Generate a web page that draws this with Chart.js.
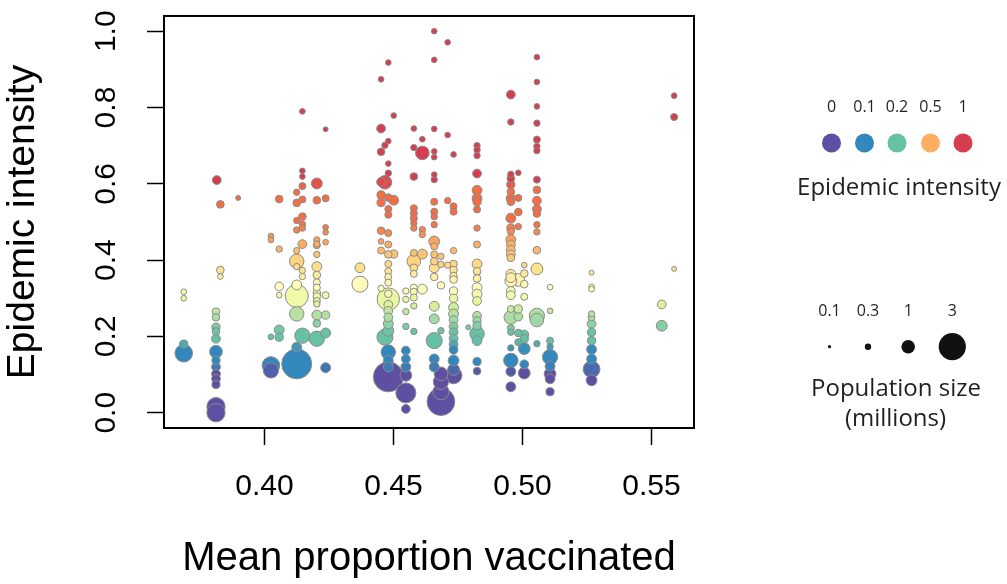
<!DOCTYPE html>
<html><head><meta charset="utf-8">
<script src="https://cdn.jsdelivr.net/npm/chart.js@4.4.1/dist/chart.umd.min.js"></script>
<style>html,body{margin:0;padding:0;background:#fff;}#wrap{position:relative;width:1007px;height:584px;}</style>
</head><body><div id="wrap"><canvas id="c" width="1007" height="584"></canvas></div>
<script>
// ---- data ----
const columnX = [0.3687,0.3815,0.3829,0.3812,0.3898,0.4025,0.4057,0.4125,0.4147,0.4203,0.4237,0.4370,0.4452,0.4467,0.4480,0.4501,0.4548,0.4579,0.4612,0.4658,0.4684,0.4710,0.4733,0.4790,0.4824,0.4955,0.4984,0.5007,0.5056,0.5107,0.5268,0.5540,0.5588];
const columnIntensity = [
 [0.317,0.300,0.180,0.156],
 [0.610],
 [0.546,0.374,0.357],
 [0.265,0.250,0.224,0.213,0.194,0.160,0.137,0.120,0.102,0.089,0.074,0.016,0.000],
 [0.563],
 [0.463,0.453,0.199,0.124,0.111],
 [0.560,0.429,0.331,0.308,0.217,0.198],
 [0.578,0.550,0.504,0.479,0.425,0.397,0.383,0.335,0.306,0.259,0.172,0.128],
 [0.790,0.634,0.619,0.594,0.559,0.514,0.494,0.484,0.442,0.373,0.357,0.202],
 [0.601,0.557,0.453,0.442,0.439,0.415,0.383,0.361,0.342,0.328,0.314,0.305,0.293,0.285,0.256,0.234,0.194],
 [0.743,0.562,0.486,0.473,0.447,0.308,0.256,0.209,0.118],
 [0.380,0.337],
 [0.874,0.745,0.684,0.605,0.571,0.551,0.477,0.449,0.425,0.326],
 [0.701,0.604,0.198],
 [0.918,0.712,0.653,0.628,0.564,0.534,0.519,0.471,0.441,0.415,0.390,0.371,0.356,0.341,0.312,0.298,0.283,0.267,0.250,0.233,0.215,0.159,0.137,0.120,0.094],
 [0.779,0.557,0.416],
 [0.319,0.297,0.265,0.226,0.163,0.141,0.120,0.098,0.052,0.010],
 [0.745,0.695,0.619,0.536,0.523,0.510,0.497,0.484,0.419,0.397,0.380,0.364,0.328,0.317,0.302,0.280,0.213],
 [0.717,0.681,0.480,0.467,0.416,0.324],
 [1.000,0.925,0.744,0.685,0.670,0.624,0.611,0.553,0.527,0.514,0.493,0.449,0.436,0.415,0.397,0.380,0.356,0.279,0.246,0.189,0.141,0.120],
 [0.410,0.389,0.334,0.215,0.102,0.081,0.055,0.029],
 [0.971,0.728,0.556,0.387],
 [0.677,0.541,0.527,0.425,0.390,0.374,0.358,0.349,0.319,0.300,0.276,0.259,0.243,0.226,0.211,0.194,0.179,0.165,0.137,0.113,0.098],
 [0.224],
 [0.700,0.689,0.674,0.627,0.583,0.562,0.553,0.533,0.484,0.441,0.390,0.371,0.352,0.328,0.311,0.293,0.254,0.241,0.228,0.207,0.189,0.134,0.109],
 [0.834,0.762,0.625,0.614,0.598,0.579,0.562,0.553,0.510,0.484,0.475,0.454,0.441,0.427,0.415,0.406,0.363,0.354,0.345,0.319,0.308,0.272,0.250,0.222,0.211,0.170,0.137,0.108,0.068],
 [0.629,0.563,0.526,0.488,0.348,0.272,0.252,0.209,0.185],
 [0.387,0.365,0.337,0.304,0.205,0.194,0.168,0.127,0.104],
 [0.932,0.867,0.803,0.759,0.716,0.698,0.687,0.611,0.584,0.556,0.534,0.522,0.493,0.474,0.426,0.377,0.254,0.243,0.181],
 [0.329,0.267,0.189,0.173,0.146,0.122,0.102,0.089,0.055],
 [0.367,0.330,0.324,0.259,0.250,0.233,0.211,0.189,0.166,0.141,0.114,0.085],
 [0.284,0.228],
 [0.831,0.775,0.377]
];
const columnPopulation = [
 [0.25,0.25,0.45,1.5],
 [0.5],
 [0.4,0.4,0.25],
 [0.4,0.4,0.45,0.4,0.5,0.9,0.45,0.5,0.5,0.5,0.45,1.6,1.6],
 [0.2],
 [0.25,0.25,0.25,1.5,1.2],
 [0.4,0.3,0.5,0.25,0.6,0.45],
 [0.3,0.4,0.3,0.3,0.3,1.1,0.3,0.6,2.3,1.1,0.6,3.5],
 [0.25,0.25,0.25,0.35,0.35,0.4,0.3,0.3,0.5,0.3,0.3,1.2],
 [0.7,0.4,0.3,0.3,0.35,0.3,0.6,0.4,0.35,0.35,0.4,0.4,0.35,0.3,0.6,0.4,1.2],
 [0.2,0.35,0.25,0.25,0.25,0.35,0.45,0.6,0.6],
 [0.6,1.3],
 [0.25,0.5,0.4,0.5,0.45,0.45,0.4,0.25,0.35,0.3],
 [0.3,1.0,1.3],
 [0.25,0.25,0.25,0.3,0.4,0.35,0.35,0.35,0.35,0.4,0.35,0.35,0.35,0.35,0.4,2.2,0.5,0.5,0.5,0.6,0.7,1.1,0.6,0.6,3.5],
 [0.25,0.6,0.45],
 [0.3,0.3,0.3,0.3,0.5,0.5,0.6,0.8,1.85,0.5],
 [0.25,0.3,0.4,0.35,0.35,0.35,0.3,0.3,0.35,1.0,0.4,0.35,0.35,0.35,0.35,0.3,0.3],
 [0.25,1.0,0.3,0.3,0.6,0.6],
 [0.25,0.25,0.25,0.25,0.25,0.25,0.3,0.35,0.35,0.3,0.3,0.7,0.35,0.35,0.4,0.6,0.4,0.6,0.6,1.3,0.6,0.6],
 [0.3,0.3,0.4,0.3,1.0,1.2,1.3,3.1],
 [0.25,0.25,0.3,0.3],
 [0.25,0.35,0.35,0.3,0.4,0.4,0.4,0.4,0.45,0.45,0.6,0.6,0.5,0.5,0.5,0.5,0.5,0.5,0.7,0.8,1.4],
 [0.2],
 [0.3,0.3,0.3,0.5,0.6,0.6,0.45,0.35,0.3,0.35,0.6,0.4,0.4,0.6,0.6,0.5,0.5,0.45,0.45,1.1,0.6,0.45,0.4],
 [0.5,0.3,0.3,0.4,0.45,0.4,0.55,0.4,0.6,0.45,0.35,0.6,0.5,0.5,0.5,0.4,0.6,0.6,0.8,0.5,0.5,0.35,1.0,0.35,0.3,0.3,1.1,0.6,0.6],
 [0.25,0.35,0.4,0.3,0.9,0.45,0.5,0.4,0.35],
 [0.25,0.4,0.4,0.35,0.5,0.45,0.8,0.5,0.8],
 [0.25,0.25,0.25,0.3,0.35,0.3,0.3,0.35,0.4,0.5,0.5,0.4,0.3,0.3,0.4,0.8,1.2,1.0,0.3],
 [0.25,0.25,0.35,0.3,1.2,0.6,0.8,0.6,0.45],
 [0.2,0.25,0.25,0.3,0.35,0.5,0.45,0.45,0.6,0.6,1.4,0.7],
 [0.5,0.7],
 [0.25,0.35,0.2]
];
const xTicks = [0.40, 0.45, 0.50, 0.55];
const yTicks = [0.0, 0.2, 0.4, 0.6, 0.8, 1.0];
const legendIntensity = [0, 0.1, 0.2, 0.5, 1];
const legendIntensityLabels = ['0', '0.1', '0.2', '0.5', '1'];
const legendPopulation = [0.1, 0.3, 1, 3];
const legendPopulationLabels = ['0.1', '0.3', '1', '3'];

// ---- styling helpers ----
const colorStops = [[0,'#5E4FA2'],[0.105,'#5E4FA2'],[0.125,'#3288BD'],[0.165,'#3288BD'],[0.19,'#66C2A5'],[0.21,'#66C2A5'],[0.25,'#ABDDA4'],[0.29,'#E6F598'],[0.33,'#FFFFBF'],[0.38,'#FEE08B'],[0.44,'#FDAE61'],[0.50,'#F46D43'],[0.59,'#F46D43'],[0.61,'#D53E4F'],[1.1,'#D53E4F']];
const legendColors = ['#5E4FA2','#3288BD','#66C2A5','#FDAE61','#D53E4F'];
function hex2rgb(h){return [parseInt(h.slice(1,3),16),parseInt(h.slice(3,5),16),parseInt(h.slice(5,7),16)];}
function colorFor(v){
  for(let i=1;i<colorStops.length;i++){
    if(v<=colorStops[i][0]){
      const [a,ca]=colorStops[i-1],[b,cb]=colorStops[i];
      const t=Math.max(0,Math.min(1,(v-a)/(b-a)));
      const A=hex2rgb(ca),B=hex2rgb(cb);
      return 'rgb('+A.map((x,k)=>Math.round(x+(B[k]-x)*t)).join(',')+')';
    }
  }
  return colorStops[colorStops.length-1][1];
}
function radiusFor(p){return 6.8*Math.pow(p,0.63);}

const points=[];
columnX.forEach((x,i)=>{
  columnIntensity[i].forEach((y,j)=>{
    points.push({x:x,y:y,r:radiusFor(columnPopulation[i][j]),pop:columnPopulation[i][j]});
  });
});
points.sort((a,b)=>b.pop-a.pop);

const AXF='"Liberation Sans", Arial, Helvetica, sans-serif';
const LGF='"Open Sans", sans-serif';
const TXT='#231f20';

const decor={
  id:'decor',
  afterDatasetsDraw(chart){
    const {ctx,chartArea:a}=chart;
    ctx.save();ctx.strokeStyle='#000';ctx.lineWidth=2;
    ctx.strokeRect(a.left,a.top,a.right-a.left,a.bottom-a.top);
    ctx.restore();
  },
  afterDraw(chart){
    const ctx=chart.ctx, ys=chart.scales.y;
    ctx.save();
    ctx.fillStyle='#000';ctx.font='30px '+AXF;ctx.textAlign='center';ctx.textBaseline='middle';
    yTicks.forEach(v=>{
      const py=ys.getPixelForValue(v);
      ctx.save();ctx.translate(106.5,py);ctx.rotate(-Math.PI/2);ctx.fillText(v.toFixed(1),0,0);ctx.restore();
    });
    // colour legend
    ctx.textBaseline='alphabetic';ctx.fillStyle=TXT;ctx.font='16px '+LGF;
    const cx=[831.5,864.5,897,930.5,963];
    legendIntensityLabels.forEach((t,i)=>ctx.fillText(t,cx[i],112.4));
    legendIntensity.forEach((v,i)=>{ctx.beginPath();ctx.fillStyle=legendColors[i];ctx.arc(cx[i],143,9.5,0,Math.PI*2);ctx.fill();});
    ctx.fillStyle=TXT;ctx.font='24px '+LGF;ctx.fillText('Epidemic intensity',899,195);
    // size legend
    const sx=[829.5,868,908.2,952.3];
    ctx.font='16px '+LGF;
    legendPopulationLabels.forEach((t,i)=>ctx.fillText(t,sx[i],315.7));
    legendPopulation.forEach((p,i)=>{ctx.beginPath();ctx.fillStyle='#111';ctx.arc(sx[i],346.7,radiusFor(p),0,Math.PI*2);ctx.fill();});
    ctx.fillStyle=TXT;ctx.font='24px '+LGF;
    ctx.fillText('Population size',896,395.5);
    ctx.fillText('(millions)',895.5,426);
    ctx.restore();
  }
};

function build(){
  new Chart(document.getElementById('c'),{
    type:'bubble',
    data:{datasets:[{data:points,backgroundColor:c=>colorFor(c.raw.y),borderColor:'#8a8a8a',borderWidth:1,hoverBorderWidth:1,hoverRadius:0}]},
    options:{
      responsive:false,animation:false,devicePixelRatio:1,events:[],
      layout:{padding:{left:0,top:13,right:313,bottom:0}},
      plugins:{legend:{display:false},tooltip:{enabled:false}},
      scales:{
        x:{type:'linear',min:0.36105,max:0.5665,
          afterBuildTicks:s=>{s.ticks=xTicks.map(v=>({value:v}));},
          afterFit:s=>{s.height=156;},
          ticks:{color:'#000',font:{family:AXF,size:30},padding:24,maxRotation:0,minRotation:0,autoSkip:false,callback:v=>Number(v).toFixed(2)},
          grid:{display:true,drawOnChartArea:false,drawTicks:true,tickLength:17,tickColor:'#000',tickWidth:1.5},
          border:{display:true,color:'#000',width:2},
          title:{display:true,text:'Mean proportion vaccinated',color:'#000',font:{family:AXF,size:40},padding:{top:0,bottom:1}}
        },
        y:{type:'linear',min:-0.04,max:1.04,
          afterBuildTicks:s=>{s.ticks=yTicks.map(v=>({value:v}));},
          afterFit:s=>{s.width=164;},
          ticks:{display:false},
          grid:{display:true,drawOnChartArea:false,drawTicks:true,tickLength:17,tickColor:'#000',tickWidth:1.5},
          border:{display:true,color:'#000',width:2},
          title:{display:true,text:'Epidemic intensity',color:'#000',font:{family:AXF,size:39},padding:{top:0,bottom:0}}
        }
      }
    },
    plugins:[decor]
  });
}
Promise.all([document.fonts.load('24px "Open Sans"'),document.fonts.load('30px "Liberation Sans"')]).then(build,build);
</script></body></html>
